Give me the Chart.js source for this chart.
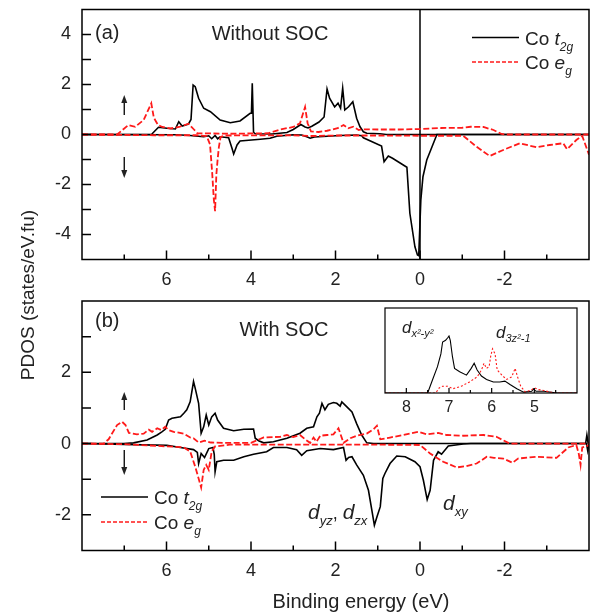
<!DOCTYPE html>
<html>
<head>
<meta charset="utf-8">
<script src="https://cdn.jsdelivr.net/npm/chart.js@4.4.1/dist/chart.umd.min.js"></script>
<style>
  html, body { margin: 0; padding: 0; background: #fff; }
  #wrap { position: relative; width: 598px; height: 614px; overflow: hidden; }
  canvas { position: absolute; left: 0; top: 0; }
</style>
</head>
<body>
<div id="wrap">
  <canvas id="cb" width="598" height="614"></canvas>
  <canvas id="ca" width="598" height="614"></canvas>
  <canvas id="ci" width="598" height="614"></canvas>
</div>
<script>
// tick labels
const xTicks = [6, 4, 2, 0, -2];
const xMinor = [7, 5, 3, 1, -1, -3];
const yTicksA = [-4, -2, 0, 2, 4];
const yMinorA = [-3, -1, 1, 3];
const yTicksB = [-2, 0, 2];
const yMinorB = [-1, 1, 3];
const insetTicks = [8, 7, 6, 5];
const insetMinor = [7.5, 6.5, 5.5, 4.5];

// (a) without SOC  -- [energy, PDOS]
const aT2gUp = [[8,0],[6.36,0],[6.34,0.03],[6.19,0.29],[5.99,0.25],[5.79,0.22],[5.71,0.51],[5.63,0.34],[5.48,0.42],[5.42,0.6],[5.37,1.98],[5.32,1.91],[5.24,1.45],[5.12,1.05],[4.96,0.91],[4.73,0.58],[4.49,0.47],[4.26,0.54],[4.02,0.85],[3.99,0.85],[3.97,2.05],[3.94,0.09],[3.9,0.03],[3.5,0.02],[3.15,0.08],[3.0,0.2],[2.82,0.4],[2.72,0.3],[2.65,0.26],[2.56,0.33],[2.39,0.5],[2.27,0.7],[2.2,1.82],[2.14,1.45],[2.02,1.1],[1.94,1.25],[1.88,1.05],[1.83,1.85],[1.78,0.98],[1.69,1.11],[1.59,1.31],[1.5,0.65],[1.42,0.31],[1.34,0.11],[1.26,0.05],[0.95,0.03],[0.8,0],[-4,0]];
const aT2gDn = [[8,0],[5.75,-0.01],[5.44,-0.04],[5.12,-0.09],[5.0,-0.05],[4.93,-0.17],[4.85,-0.04],[4.79,-0.17],[4.73,-0.09],[4.53,-0.13],[4.45,-0.55],[4.41,-0.78],[4.33,-0.42],[4.26,-0.26],[3.78,-0.19],[3.55,-0.15],[3.39,-0.07],[3.0,-0.01],[2.8,-0.02],[2.68,-0.09],[2.6,-0.15],[2.5,-0.1],[1.89,-0.04],[1.5,-0.02],[1.38,-0.05],[1.34,-0.13],[0.91,-0.46],[0.85,-1.09],[0.75,-0.86],[0.65,-0.95],[0.31,-1.31],[0.24,-3.15],[0.12,-4.49],[0.06,-4.82],[0.03,-4.85],[-0.02,-2.62],[-0.07,-1.69],[-0.16,-1.02],[-0.28,-0.51],[-0.4,0],[-4,0]];
const aEgUp = [[8,0],[7.17,0],[6.9,0.38],[6.74,0.31],[6.54,0.58],[6.36,1.25],[6.3,0.67],[6.2,0.38],[6.1,0.3],[5.91,0.24],[5.7,0.3],[5.48,0.43],[5.35,0.2],[5.27,0.05],[4.5,0.03],[3.6,0.05],[3.31,0.2],[3.0,0.3],[2.84,0.45],[2.72,1.1],[2.66,0.45],[2.58,0.12],[2.4,0.1],[2.2,0.15],[1.95,0.25],[1.81,0.38],[1.7,0.25],[1.58,0.31],[1.45,0.18],[1.38,0.21],[1.0,0.2],[0.5,0.2],[0,0.22],[-0.5,0.26],[-1.0,0.27],[-1.2,0.31],[-1.5,0.3],[-1.74,0.18],[-1.93,0.02],[-2.0,0],[-4,0]];
const aEgDn = [[8,0],[6.3,-0.03],[5.3,-0.03],[5.05,-0.06],[4.97,-0.4],[4.92,-1.5],[4.88,-2.6],[4.85,-3.07],[4.82,-1.6],[4.79,-1.0],[4.76,-0.5],[4.72,-0.1],[4.6,-0.04],[3.0,-0.03],[2.6,-0.06],[2.0,-0.04],[1.0,-0.04],[0,-0.05],[-1.02,-0.05],[-1.34,-0.49],[-1.65,-0.86],[-1.97,-0.62],[-2.36,-0.35],[-2.76,-0.51],[-3.07,-0.42],[-3.39,-0.35],[-3.48,-0.59],[-3.7,-0.22],[-3.84,-0.06],[-4,-0.81]];
const fermiA = [[0,-5],[0,5]];

// (b) with SOC
const bT2gUp = [[8,0],[7.01,0],[6.78,0.02],[6.46,0.1],[6.22,0.24],[6.11,0.33],[6.03,0.4],[5.95,0.66],[5.87,0.71],[5.67,0.75],[5.59,0.85],[5.52,0.95],[5.44,1.17],[5.36,1.74],[5.32,1.55],[5.24,1.13],[5.18,0.29],[5.12,0.47],[5.06,0.8],[5.0,0.52],[4.93,0.75],[4.85,0.85],[4.79,0.66],[4.65,0.43],[4.41,0.36],[4.17,0.4],[3.94,0.41],[3.9,0.15],[3.82,0.08],[3.7,0.02],[3.47,0.05],[3.15,0.15],[2.84,0.29],[2.68,0.43],[2.52,0.47],[2.44,0.75],[2.38,0.85],[2.32,1.13],[2.25,0.95],[2.17,1.1],[2.05,1.15],[1.97,1.13],[1.89,1.05],[1.85,1.17],[1.73,1.03],[1.61,0.89],[1.5,0.56],[1.38,0.24],[1.26,0.02],[1.1,0],[-3.92,0],[-3.95,0.24],[-3.98,0],[-4,0]];
const bT2gDn = [[8,0],[5.99,-0.05],[5.67,-0.11],[5.36,-0.17],[5.27,-0.25],[5.24,-0.56],[5.18,-0.28],[5.1,-0.39],[5.0,-0.14],[4.9,-0.11],[4.87,-0.3],[4.85,-0.79],[4.81,-0.51],[4.65,-0.47],[4.41,-0.47],[4.17,-0.37],[3.94,-0.3],[3.63,-0.23],[3.47,-0.11],[3.15,-0.11],[2.92,-0.17],[2.8,-0.33],[2.68,-0.2],[2.36,-0.14],[2.05,-0.17],[1.81,-0.11],[1.75,-0.47],[1.69,-0.39],[1.61,-0.37],[1.5,-0.6],[1.34,-0.89],[1.22,-1.31],[1.14,-1.87],[1.08,-2.29],[1.02,-2.06],[0.94,-1.77],[0.88,-0.98],[0.83,-0.84],[0.71,-0.56],[0.55,-0.35],[0.35,-0.37],[0.12,-0.51],[0.0,-0.65],[-0.08,-1.03],[-0.17,-1.57],[-0.24,-1.31],[-0.32,-0.47],[-0.43,-0.23],[-0.51,-0.3],[-0.67,-0.07],[-1.02,-0.01],[-1.2,0],[-3.94,0],[-3.97,-0.2],[-4,0]];
const bEgUp = [[8,0],[7.49,0],[7.37,0.12],[7.17,0.52],[7.05,0.61],[6.97,0.52],[6.89,0.3],[6.7,0.26],[6.54,0.28],[6.42,0.39],[6.34,0.33],[6.22,0.43],[6.12,0.38],[6.03,0.47],[5.95,0.38],[5.83,0.33],[5.59,0.28],[5.44,0.17],[5.36,0.15],[5.24,0.03],[5.1,0.08],[4.95,0.03],[4.6,0.02],[4.0,0.02],[3.8,0.12],[3.7,0.17],[3.31,0.19],[3.15,0.24],[3.0,0.18],[2.84,0.24],[2.72,0.12],[2.6,0.02],[2.52,0.17],[2.45,0.05],[2.36,0.22],[2.2,0.24],[2.05,0.26],[1.93,0.43],[1.88,0.26],[1.81,0.02],[1.65,0.15],[1.5,0.22],[1.26,0.28],[1.1,0.4],[1.02,0.5],[0.94,0.12],[0.71,0.17],[0.39,0.24],[0.04,0.33],[-0.16,0.26],[-0.43,0.3],[-0.63,0.24],[-1.02,0.22],[-1.5,0.24],[-1.81,0.19],[-2.09,0.02],[-2.15,0],[-4,0]];
const bEgDn = [[8,0],[6.9,-0.02],[6.46,-0.05],[5.99,-0.08],[5.6,-0.1],[5.44,-0.22],[5.32,-0.65],[5.24,-0.98],[5.18,-1.23],[5.12,-0.74],[5.06,-0.6],[5.0,-0.74],[4.93,-0.22],[4.85,-0.08],[4.5,-0.03],[3.0,-0.03],[1.0,-0.03],[0.0,-0.04],[-0.24,-0.28],[-0.55,-0.51],[-0.87,-0.67],[-1.1,-0.63],[-1.34,-0.56],[-1.58,-0.37],[-1.75,-0.4],[-1.97,-0.42],[-2.19,-0.54],[-2.32,-0.42],[-2.76,-0.37],[-3.23,-0.4],[-3.51,-0.11],[-3.7,-0.04],[-3.76,-0.3],[-3.8,-0.6],[-3.84,-0.11],[-4,-0.05]];

// inset: dx2-y2 and d3z2-1 (arb. units)
const insetX2Y2 = [[8.5,0],[7.5,0],[7.39,0.15],[7.27,0.31],[7.19,0.46],[7.15,0.6],[7.08,0.62],[7.03,0.65],[7.0,0.67],[6.97,0.62],[6.92,0.43],[6.87,0.29],[6.75,0.25],[6.59,0.21],[6.48,0.29],[6.41,0.35],[6.34,0.27],[6.24,0.2],[6.12,0.16],[5.96,0.13],[5.81,0.13],[5.69,0.14],[5.57,0.1],[5.41,0.05],[5.25,0.01],[5.06,0.02],[5.02,0.05],[4.96,0.02],[4.78,0.02],[4.46,0],[4,0]];
const insetZ2 = [[8.5,0],[7.31,0],[7.23,0.06],[7.15,0.08],[7.03,0.08],[6.91,0.05],[6.71,0.08],[6.52,0.13],[6.34,0.19],[6.24,0.27],[6.18,0.35],[6.12,0.29],[6.06,0.31],[6.02,0.44],[5.98,0.52],[5.92,0.46],[5.87,0.27],[5.76,0.21],[5.65,0.16],[5.53,0.19],[5.45,0.29],[5.4,0.2],[5.32,0.08],[5.21,0.01],[5.06,0.04],[5.0,0.06],[4.9,0.04],[4.78,0.03],[4.62,0.01],[4.5,0],[4,0]];

const FONT = '"Liberation Sans", Arial, Helvetica, sans-serif';
const INK = '#222';
const RED = '#ff1a1a';

const toXY = arr => arr.map(p => ({ x: p[0], y: p[1] }));
function line(arr, color, dash, w) {
  return { data: toXY(arr), borderColor: color, borderWidth: w, borderDash: dash,
           pointRadius: 0, tension: 0, fill: false };
}

function noPad(s) { s.paddingTop = 0; s.paddingBottom = 0; s.paddingLeft = 0; s.paddingRight = 0; }

function xScale(min, max, ticks, size, pad, h) {
  return {
    type: 'linear', reverse: true, min: min, max: max,
    grid: { display: false, drawTicks: false }, border: { display: false },
    ticks: { font: { family: FONT, size: size }, color: INK, padding: pad,
             maxRotation: 0, autoSkip: false, callback: v => String(v) },
    afterBuildTicks: s => { s.ticks = ticks.map(v => ({ value: v })); },
    afterFit: s => { s.height = h; noPad(s); }
  };
}
function yScale(min, max, ticks, w) {
  return {
    type: 'linear', min: min, max: max, display: w > 0,
    grid: { display: false, drawTicks: false }, border: { display: false },
    ticks: { font: { family: FONT, size: 18 }, color: INK, padding: 11, callback: v => String(v) },
    afterBuildTicks: s => { s.ticks = ticks.map(v => ({ value: v })); },
    afterFit: s => { s.width = w; noPad(s); }
  };
}

// box + inward ticks
function frame(o) {
  return {
    id: 'frame',
    beforeDatasetsDraw(chart) {
      if (!o.fill) return;
      const a = chart.chartArea, ctx = chart.ctx;
      ctx.save(); ctx.fillStyle = '#fff';
      ctx.fillRect(a.left, a.top, a.right - a.left, a.bottom - a.top);
      ctx.restore();
    },
    afterDatasetsDraw(chart) {
      const a = chart.chartArea, ctx = chart.ctx, sx = chart.scales.x, sy = chart.scales.y;
      ctx.save();
      ctx.strokeStyle = '#000'; ctx.lineWidth = o.lw;
      ctx.strokeRect(a.left, a.top, a.right - a.left, a.bottom - a.top);
      ctx.beginPath();
      o.xMajor.forEach(v => { const p = sx.getPixelForValue(v); ctx.moveTo(p, a.bottom); ctx.lineTo(p, a.bottom - o.major); });
      o.xMinor.forEach(v => { const p = sx.getPixelForValue(v); ctx.moveTo(p, a.bottom); ctx.lineTo(p, a.bottom - o.minor); });
      (o.yMajor || []).concat(o.yMinor || []).forEach(v => { const p = sy.getPixelForValue(v); ctx.moveTo(a.left, p); ctx.lineTo(a.left + o.ylen, p); });
      ctx.stroke();
      ctx.restore();
    }
  };
}

// text with italic / sub parts: [text, size, italic, dy]
function runs(ctx, x, y, parts, align) {
  let w = 0;
  parts.forEach(p => { ctx.font = (p[2] ? 'italic ' : '') + p[1] + 'px ' + FONT; w += ctx.measureText(p[0]).width; });
  if (align === 'center') x -= w / 2;
  parts.forEach(p => {
    ctx.font = (p[2] ? 'italic ' : '') + p[1] + 'px ' + FONT;
    ctx.fillText(p[0], x, y + (p[3] || 0));
    x += ctx.measureText(p[0]).width;
  });
}
function arrow(ctx, x, y0, y1) {
  const d = y1 > y0 ? 1 : -1;
  ctx.beginPath(); ctx.moveTo(x, y0); ctx.lineTo(x, y1 - d * 4); ctx.stroke();
  ctx.beginPath(); ctx.moveTo(x, y1); ctx.lineTo(x - 3, y1 - d * 8); ctx.lineTo(x + 3, y1 - d * 8); ctx.closePath(); ctx.fill();
}
function legendEntry(ctx, x0, x1, y, color, dash, parts) {
  ctx.save();
  ctx.strokeStyle = color; ctx.lineWidth = 1.5; ctx.setLineDash(dash);
  ctx.beginPath(); ctx.moveTo(x0, y); ctx.lineTo(x1, y); ctx.stroke();
  ctx.restore();
  runs(ctx, x1 + 6, y + 7, parts);
}
function annot(fn) {
  return { id: 'annot', afterDraw(chart) { const ctx = chart.ctx; ctx.save(); ctx.fillStyle = INK; ctx.strokeStyle = '#000'; ctx.lineWidth = 1.3; ctx.textBaseline = 'alphabetic'; fn(ctx, chart); ctx.restore(); } };
}
const t2gLabel = [['Co ', 19], ['t', 19, true], ['2g', 12, true, 6]];
const egLabel = [['Co ', 19], ['e', 19, true], ['g', 12, true, 6]];
const legDash = [4, 2];

const base = { responsive: false, animation: false, devicePixelRatio: 1,
               plugins: { legend: { display: false }, tooltip: { enabled: false } } };

// panel (b)
new Chart(document.getElementById('cb'), {
  type: 'line',
  data: { datasets: [
    line(bEgUp, RED, [6, 2.5], 1.8), line(bEgDn, RED, [6, 2.5], 1.8),
    line(bT2gUp, '#000', [], 1.6), line(bT2gDn, '#000', [], 1.6)
  ] },
  options: Object.assign({}, base, {
    layout: { padding: { top: 301, right: 9, left: 0, bottom: 0 } },
    scales: { x: xScale(-4, 8, xTicks, 18, 10, 63.5), y: yScale(-3, 4, yTicksB, 82) }
  }),
  plugins: [
    frame({ lw: 1.5, major: 9, minor: 5, ylen: 9, xMajor: xTicks, xMinor: xMinor, yMajor: yTicksB, yMinor: yMinorB }),
    annot((ctx, chart) => {
      const sx = chart.scales.x, sy = chart.scales.y;
      runs(ctx, 95, 327, [['(b)', 20]]);
      runs(ctx, 284, 336, [['With SOC', 20]], 'center');
      arrow(ctx, sx.getPixelForValue(7), sy.getPixelForValue(0.94), sy.getPixelForValue(1.45));
      arrow(ctx, sx.getPixelForValue(7), sy.getPixelForValue(-0.18), sy.getPixelForValue(-0.88));
      legendEntry(ctx, 101, 148, 497, '#000', [], t2gLabel);
      legendEntry(ctx, 101, 148, 522, RED, legDash, egLabel);
      runs(ctx, 308, 519, [['d', 21, true], ['yz', 13, true, 6], [', ', 18], ['d', 21, true], ['zx', 13, true, 6]]);
      runs(ctx, 443, 510, [['d', 21, true], ['xy', 13, true, 6]]);
      runs(ctx, 361, 608, [['Binding energy (eV)', 20]], 'center');
      ctx.save(); ctx.translate(34, 295); ctx.rotate(-Math.PI / 2);
      runs(ctx, 0, 0, [['PDOS (states/eV.fu)', 19]], 'center');
      ctx.restore();
    })
  ]
});

// panel (a)
new Chart(document.getElementById('ca'), {
  type: 'line',
  data: { datasets: [
    line(aEgUp, RED, [6, 2.5], 1.8), line(aEgDn, RED, [6, 2.5], 1.8),
    line(aT2gUp, '#000', [], 1.6), line(aT2gDn, '#000', [], 1.6),
    line(fermiA, '#000', [], 1.5)
  ] },
  options: Object.assign({}, base, {
    layout: { padding: { top: 9.5, right: 9, left: 0, bottom: 0 } },
    scales: { x: xScale(-4, 8, xTicks, 18, 10, 354.5), y: yScale(-5, 5, yTicksA, 82) }
  }),
  plugins: [
    frame({ lw: 1.5, major: 9, minor: 5, ylen: 9, xMajor: xTicks, xMinor: xMinor, yMajor: yTicksA, yMinor: yMinorA }),
    annot((ctx, chart) => {
      const sx = chart.scales.x, sy = chart.scales.y;
      runs(ctx, 95, 39, [['(a)', 20]]);
      runs(ctx, 270, 40, [['Without SOC', 20]], 'center');
      arrow(ctx, sx.getPixelForValue(7), sy.getPixelForValue(0.78), sy.getPixelForValue(1.58));
      arrow(ctx, sx.getPixelForValue(7), sy.getPixelForValue(-0.9), sy.getPixelForValue(-1.74));
      legendEntry(ctx, 472, 519, 37.5, '#000', [], t2gLabel);
      legendEntry(ctx, 472, 519, 62, RED, legDash, egLabel);
    })
  ]
});

// inset
new Chart(document.getElementById('ci'), {
  type: 'line',
  data: { datasets: [
    line(insetZ2, RED, [2, 2], 1.1), line(insetX2Y2, '#000', [], 1.1)
  ] },
  options: Object.assign({}, base, {
    layout: { padding: { top: 308, right: 21, left: 385, bottom: 0 } },
    scales: { x: xScale(4, 8.5, insetTicks, 16, 5, 221), y: yScale(0, 1, [], 0) }
  }),
  plugins: [
    frame({ lw: 1.2, major: 5, minor: 3, ylen: 0, fill: true, xMajor: insetTicks, xMinor: insetMinor }),
    annot(ctx => {
      runs(ctx, 402, 333, [['d', 17, true], ['x²-y²', 11, true, 4]]);
      runs(ctx, 496, 338, [['d', 17, true], ['3z²-1', 11, true, 4]]);
    })
  ]
});
</script>
</body>
</html>
